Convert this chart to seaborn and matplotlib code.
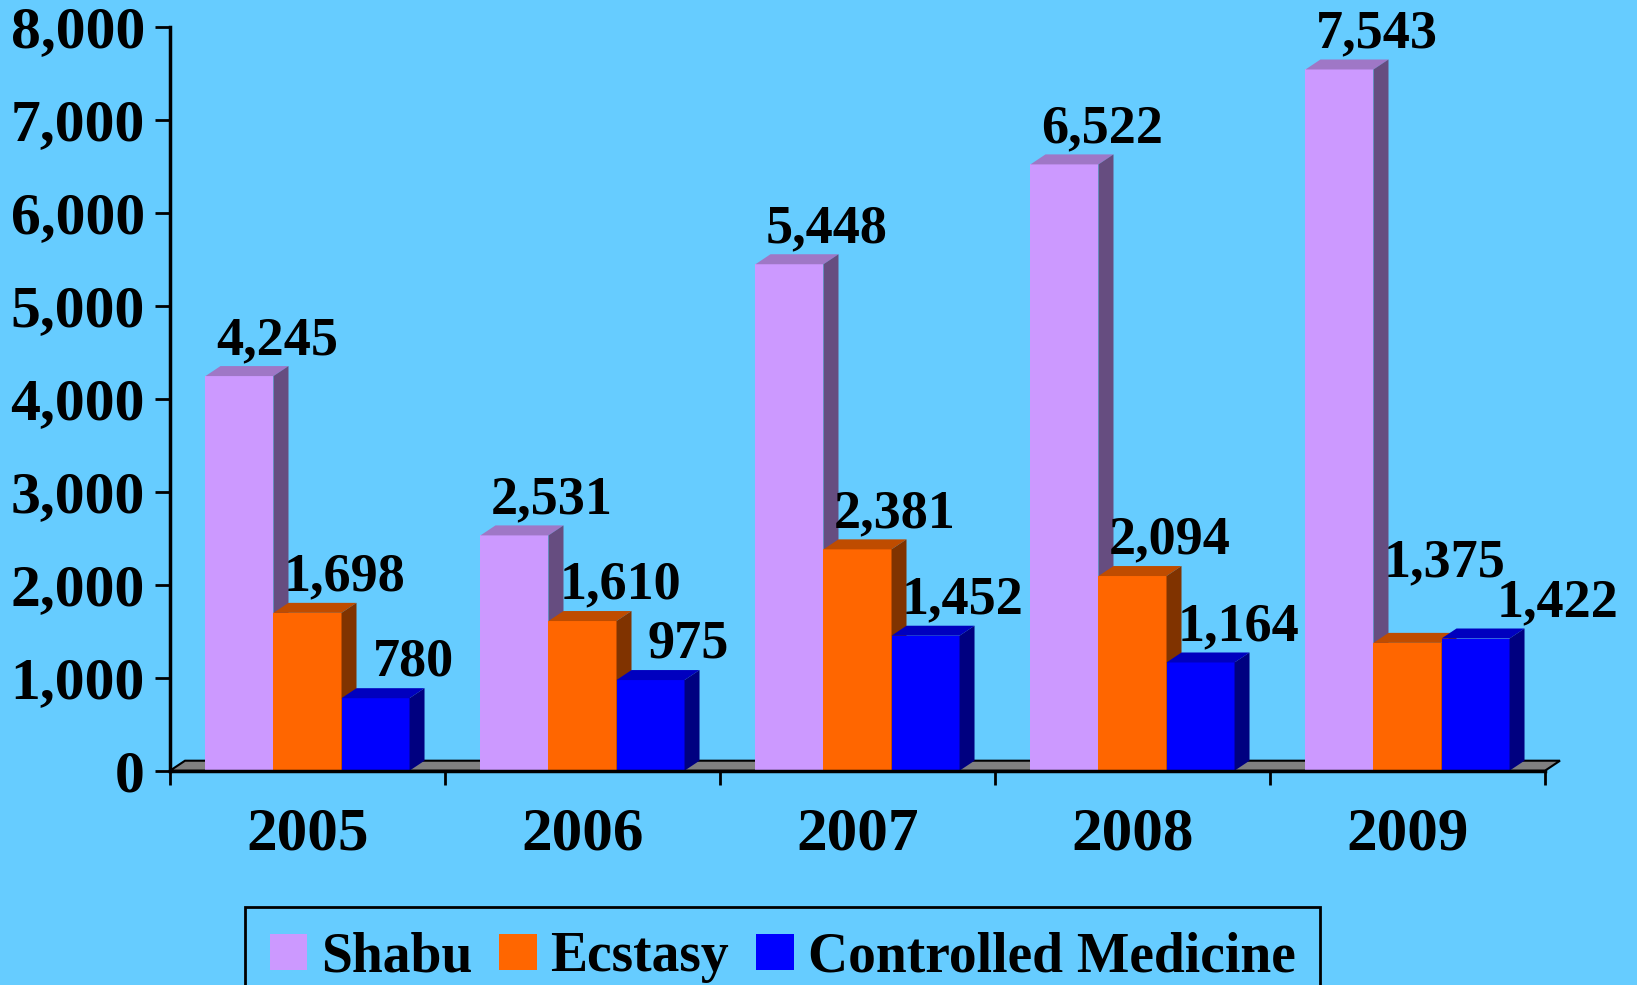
import numpy as np
import pandas as pd
import matplotlib
matplotlib.use("Agg")
import matplotlib.pyplot as plt
from matplotlib.patches import Polygon, Patch
import seaborn as sns

years = ["2005", "2006", "2007", "2008", "2009"]
series = ["Shabu", "Ecstasy", "Controlled Medicine"]
shabu = [4245, 2531, 5448, 6522, 7543]
ecstasy = [1698, 1610, 2381, 2094, 1375]
medicine = [780, 975, 1452, 1164, 1422]
y_ticks = [0, 1000, 2000, 3000, 4000, 5000, 6000, 7000, 8000]

front_cols = ["#CC99FF", "#FF6600", "#0000FF"]
top_cols = ["#9F77C6", "#BF4C00", "#0000BF"]
side_cols = ["#664D80", "#803300", "#000080"]
bg = "#66CCFF"

# label nudges (points) where the labels would collide
label_nudge = {("Ecstasy", "2009"): (0, 32), ("Controlled Medicine", "2009"): (32, 0)}

plt.rcParams["font.family"] = ["Liberation Serif", "DejaVu Serif"]
plt.rcParams["font.weight"] = "bold"

df = pd.DataFrame({
    "year": years * 3,
    "series": np.repeat(series, len(years)),
    "value": shabu + ecstasy + medicine,
})

W, H = 1637, 985
fig = plt.figure(figsize=(W / 100, H / 100), dpi=100, facecolor=bg)
ax = fig.add_axes([170 / W, 1 - 770.7 / H, 1375 / W, 743.7 / H])
ax.set_facecolor(bg)

sns.barplot(data=df, x="year", y="value", hue="series", palette=front_cols,
            width=0.742, saturation=1, errorbar=None, legend=False,
            linewidth=0, ax=ax)

ax.set_xlim(-0.5, 4.5)
ax.set_ylim(0, 8000)

# 3d depth in pixels -> data units
bb = ax.get_window_extent()
x_pp = 5 / bb.width
y_pp = 8000 / bb.height
dx, dy = 15 * x_pp, 10 * y_pp

# floor
x_lo, x_hi = ax.get_xlim()
ax.add_patch(Polygon([(x_lo, 0), (x_hi, 0), (x_hi + dx, dy), (x_lo + dx, dy)],
                     closed=True, facecolor="#808080", edgecolor="black",
                     lw=1.5, zorder=1.5, clip_on=False))

for i, cont in enumerate(ax.containers):
    for j, bar in enumerate(cont):
        x0, w, h = bar.get_x(), bar.get_width(), bar.get_height()
        bar.set_zorder(2 + i)
        ax.add_patch(Polygon([(x0, h), (x0 + w, h), (x0 + w + dx, h + dy), (x0 + dx, h + dy)],
                             closed=True, facecolor=top_cols[i], lw=0, zorder=2 + i, clip_on=False))
        ax.add_patch(Polygon([(x0 + w, 0), (x0 + w + dx, dy), (x0 + w + dx, h + dy), (x0 + w, h)],
                             closed=True, facecolor=side_cols[i], lw=0, zorder=2 + i, clip_on=False))
        nx, ny = label_nudge.get((series[i], years[j]), (0, 0))
        ax.annotate(f"{int(h):,}", (x0 + w / 2, h), xytext=(27 + nx, 16 + ny),
                    textcoords="offset points", ha="center", va="baseline",
                    fontsize=39, fontweight="bold", zorder=10, annotation_clip=False)

ax.set_xticks(np.arange(-0.5, 5, 1))
ax.set_xticklabels([])
ax.set_xticks(range(len(years)), minor=True)
ax.set_xticklabels(years, minor=True, fontsize=44, fontweight="bold")
ax.tick_params(axis="x", which="major", length=10, width=2, direction="out")
ax.tick_params(axis="x", which="minor", length=0, pad=26)

ax.set_yticks(y_ticks)
ax.set_yticklabels([f"{v:,}" for v in y_ticks], fontsize=43, fontweight="bold")
ax.tick_params(axis="y", length=11, width=2, pad=7)

ax.set_xlabel("")
ax.set_ylabel("")
for s in ["top", "right"]:
    ax.spines[s].set_visible(False)
for s in ["left", "bottom"]:
    ax.spines[s].set_linewidth(2.5)
    ax.spines[s].set_zorder(20)

handles = [Patch(facecolor=c, edgecolor="none") for c in front_cols]
leg = fig.legend(handles, series, loc="upper center",
                 bbox_to_anchor=(782.5 / W, 1 - 907 / H), borderaxespad=0, ncol=3,
                 frameon=True, fancybox=False, edgecolor="black", facecolor=bg,
                 framealpha=1, fontsize=40, handlelength=0.67, handleheight=0.64,
                 handletextpad=0.25, columnspacing=0.49, borderpad=0.44)
leg.get_frame().set_linewidth(2)

fig.savefig("out.png", dpi=100, facecolor=bg)
